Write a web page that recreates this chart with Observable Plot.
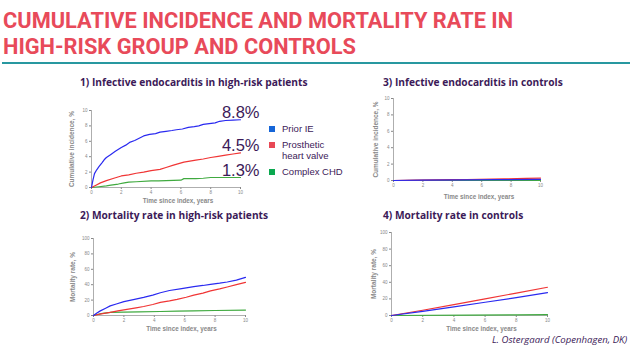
<!DOCTYPE html>
<html>
<head>
<meta charset="utf-8">
<script src="https://cdn.jsdelivr.net/npm/d3@7"></script>
<script src="https://cdn.jsdelivr.net/npm/@observablehq/plot@0.6"></script>
<style>
  html, body { margin: 0; padding: 0; background: #fff; }
  #page { position: relative; width: 630px; height: 354px; overflow: hidden; background: #fff; }
  .title { position: absolute; left: 3px; top: 8px; font-family: Roboto, sans-serif; font-weight: bold;
           font-size: 21.8px; line-height: 26px; color: #E84A5A; white-space: nowrap; }
  .rule { position: absolute; left: 2px; top: 62px; width: 628px; height: 2px; background: #2898A0; }
  .ptitle { position: absolute; font-family: "Open Sans", sans-serif; font-weight: bold; font-size: 10.2px;
            color: #3C1A58; white-space: nowrap; }
  .panel { position: absolute; }
  .legend { position: absolute; left: 269px; top: 123px; font-family: "Liberation Sans", Arial, sans-serif; font-size: 9.5px;
            color: #3C1A58; line-height: 11px; }
  .legend .item { position: relative; padding-left: 13px; margin-bottom: 5px; }
  .legend .sw { position: absolute; left: 0; top: 2.5px; width: 6px; height: 6px; }
  .footer { position: absolute; left: 492px; top: 333px; font-family: "Open Sans", sans-serif; font-style: italic;
            font-size: 9.6px; color: #3C1A58; white-space: nowrap; }
</style>
</head>
<body>
<div id="page">
  <div class="title">CUMULATIVE INCIDENCE AND MORTALITY RATE IN<br>HIGH-RISK GROUP AND CONTROLS</div>
  <div class="rule"></div>
  <div class="ptitle" id="t1" style="left:80px; top:75px;"></div>
  <div class="ptitle" id="t3" style="left:383px; top:75px;"></div>
  <div class="ptitle" id="t2" style="left:80px; top:208px;"></div>
  <div class="ptitle" id="t4" style="left:383px; top:208px;"></div>
  <div class="legend" id="legend"></div>
  <div class="footer">L. Ostergaard (Copenhagen, DK)</div>
</div>
<script>
// ---- Titles / labels ----
const panelTitles = [
  "1) Infective endocarditis in high-risk patients",
  "2) Mortality rate in high-risk patients",
  "3) Infective endocarditis in controls",
  "4) Mortality rate in controls"
];
const seriesNames = ["Prior IE", "Prosthetic heart valve", "Complex CHD"];
const seriesLegendLines = [["Prior IE"], ["Prosthetic", "heart valve"], ["Complex CHD"]];
const legendColors = ["#1565D8", "#E84855", "#0AA84F"];
const lineColors = ["#2A2AF0", "#F03535", "#40AA40"];
const xTicks = [0, 2, 4, 6, 8, 10];
const incTicks = [0, 2, 4, 6, 8, 10];
const mortTicks = [0, 20, 40, 60, 80, 100];
const xLabel = "Time since index, years";
const incLabel = "Cumulative incidence, %";
const mortLabel = "Mortality rate, %";
const endLabels = ["8.8%", "4.5%", "1.3%"];

// ---- Panel 1: IE in high-risk patients (cumulative incidence, %) ----
const p1PriorT = [0, 0.1, 0.2, 0.35, 0.5, 0.7, 0.85, 1.0, 1.3, 1.6, 2.0, 2.3, 2.6, 2.9, 3.2, 3.5, 3.9, 4.3, 4.6, 5.0, 5.4, 5.7, 6.1, 6.5, 6.9, 7.2, 7.5, 7.9, 8.3, 8.6, 9.0, 9.5, 10];
const p1PriorV = [0, 1.0, 1.8, 2.3, 2.7, 3.2, 3.6, 3.9, 4.3, 4.7, 5.2, 5.5, 5.9, 6.1, 6.4, 6.7, 6.9, 7.0, 7.2, 7.3, 7.4, 7.5, 7.6, 7.8, 7.9, 8.0, 8.2, 8.3, 8.4, 8.6, 8.7, 8.75, 8.8];
const p1ProsT = [0, 0.3, 0.6, 1.0, 1.5, 2.0, 2.5, 3.0, 3.5, 4.0, 4.6, 5.0, 5.5, 6.2, 7.0, 7.5, 8.0, 8.5, 9.0, 9.5, 10];
const p1ProsV = [0, 0.3, 0.6, 0.9, 1.2, 1.5, 1.65, 1.85, 2.0, 2.2, 2.35, 2.6, 2.9, 3.3, 3.55, 3.7, 3.9, 4.05, 4.2, 4.35, 4.5];
const p1ChdT = [0, 0.5, 1.0, 1.3, 1.8, 2.2, 2.5, 3.0, 4.0, 4.5, 5.0, 6.0, 6.2, 7.0, 7.5, 8.0, 10];
const p1ChdV = [0, 0.1, 0.2, 0.3, 0.45, 0.6, 0.7, 0.75, 0.85, 0.85, 0.9, 0.95, 1.15, 1.15, 1.2, 1.3, 1.3];

// ---- Panel 2: Mortality in high-risk patients (%) ----
const p2PriorT = [0, 0.2, 0.45, 0.8, 1.1, 1.5, 2.0, 2.7, 3.3, 3.9, 4.4, 5.0, 5.8, 6.6, 7.2, 7.7, 8.3, 8.8, 9.4, 10];
const p2PriorV = [0, 3, 6, 9.5, 12.5, 15, 18, 21, 23.5, 26.5, 29.5, 32.5, 35, 37.5, 39, 40.5, 42, 43.5, 46, 49.5];
const p2ProsT = [0, 0.5, 1.1, 1.6, 2.2, 2.8, 3.3, 3.9, 4.4, 5.0, 5.5, 6.1, 6.6, 7.2, 7.7, 8.3, 8.8, 9.4, 10];
const p2ProsV = [0, 2, 4, 6, 8, 10, 11.7, 14.3, 17, 19, 21, 23.7, 26.4, 29, 32, 34.5, 37, 40, 43];
const p2ChdT = [0, 0.5, 1.1, 2, 3, 4.4, 5.5, 6.6, 8, 10];
const p2ChdV = [0, 2.5, 4, 4.5, 4.8, 5.2, 5.6, 6, 6.5, 7];

// ---- Panel 3: IE in controls (cumulative incidence, %) ----
const p3PriorT = [0, 2.0, 5.0, 7.0, 10];
const p3PriorV = [0, 0.04, 0.08, 0.1, 0.14];
const p3ProsT = [0, 1.5, 4.0, 5.0, 7.5, 9.0, 10];
const p3ProsV = [0, 0.05, 0.1, 0.12, 0.2, 0.25, 0.3];
const p3ChdT = [0, 10];
const p3ChdV = [0, 0.02];

// ---- Panel 4: Mortality in controls (%) ----
const p4PriorT = [0, 2, 4, 6, 8, 10];
const p4PriorV = [0, 5, 10.5, 16, 21.5, 27.5];
const p4ProsT = [0, 2, 4, 6, 8, 10];
const p4ProsV = [0, 6.3, 13, 20, 27, 34];
const p4ChdT = [0, 5, 8, 10];
const p4ChdV = [0, 0.5, 0.7, 1];

function series(ts, vs, k) { return ts.map((t, i) => ({t, v: vs[i], k})); }

function panel(cfg) {
  const ml = 30, mt = 8, mb = 22, mr = cfg.mr || 8;
  const w = cfg.x1 - cfg.x0, h = cfg.y1 - cfg.y0;
  const data = cfg.series.flatMap(([ts, vs], k) => series(ts, vs, k));
  const marks = [
    Plot.axisY({ticks: cfg.yTicks, tickSize: 2, tickPadding: 2, fontSize: 4.5, label: null}),
    Plot.axisX({ticks: xTicks, tickSize: 2, tickPadding: 1, fontSize: 4.5, label: null}),
    Plot.ruleY([0], {stroke: "#999", strokeWidth: 0.8}),
    Plot.ruleX([0], {stroke: "#999", strokeWidth: 0.8}),
  ];
  // draw green first, then red, then blue on top
  [2, 1, 0].forEach(k => {
    marks.push(Plot.line(data.filter(d => d.k === k), {x: "t", y: "v", stroke: lineColors[k], strokeWidth: 1.2}));
  });
  marks.push(Plot.text([cfg.yLabel], {text: d => d, frameAnchor: "left", rotate: -90, dx: -cfg.ylOff,
    textAnchor: "middle", lineAnchor: "middle", fontSize: 6.5, fontWeight: "bold", fill: "#888"}));
  marks.push(Plot.text([xLabel], {text: d => d, frameAnchor: "bottom", dy: cfg.xlOff, dx: 12,
    textAnchor: "middle", lineAnchor: "middle", fontSize: 6.3, fontWeight: "bold", fill: "#888"}));
  if (cfg.ends) {
    const ends = cfg.series.map(([ts, vs], k) => ({t: ts[ts.length - 1], v: vs[vs.length - 1], label: cfg.ends[k]}));
    marks.push(Plot.text(ends, {x: "t", y: "v", text: "label", textAnchor: "end", dx: 19, dy: -7,
      fontSize: 16.5, fill: "#3C1A58", fontFamily: "Liberation Sans, Arial, sans-serif"}));
  }
  const svg = Plot.plot({
    width: w + ml + mr, height: h + mt + mb,
    marginLeft: ml, marginRight: mr, marginTop: mt, marginBottom: mb,
    x: {domain: [0, 10]},
    y: {domain: [0, cfg.yMax]},
    style: {background: "transparent", color: "#888", fontFamily: "Liberation Sans, Arial, sans-serif", overflow: "visible"},
    marks
  });
  const div = document.createElement("div");
  div.className = "panel";
  div.style.left = (cfg.x0 - ml) + "px";
  div.style.top = (cfg.y0 - mt) + "px";
  div.appendChild(svg);
  document.getElementById("page").appendChild(div);
}

panel({x0: 91, x1: 240, y0: 110, y1: 187, yMax: 10, yTicks: incTicks, yLabel: incLabel, ylOff: 20, xlOff: 13, mr: 24,
  series: [[p1PriorT, p1PriorV], [p1ProsT, p1ProsV], [p1ChdT, p1ChdV]], ends: endLabels});
panel({x0: 93, x1: 245, y0: 238, y1: 315, yMax: 100, yTicks: mortTicks, yLabel: mortLabel, ylOff: 21, xlOff: 13,
  series: [[p2PriorT, p2PriorV], [p2ProsT, p2ProsV], [p2ChdT, p2ChdV]]});
panel({x0: 393, x1: 540, y0: 98, y1: 180, yMax: 10, yTicks: incTicks, yLabel: incLabel, ylOff: 18, xlOff: 16,
  series: [[p3PriorT, p3PriorV], [p3ProsT, p3ProsV], [p3ChdT, p3ChdV]]});
panel({x0: 391, x1: 547, y0: 232, y1: 315, yMax: 100, yTicks: mortTicks, yLabel: mortLabel, ylOff: 18, xlOff: 13,
  series: [[p4PriorT, p4PriorV], [p4ProsT, p4ProsV], [p4ChdT, p4ChdV]]});

document.getElementById("t1").textContent = panelTitles[0];
document.getElementById("t2").textContent = panelTitles[1];
document.getElementById("t3").textContent = panelTitles[2];
document.getElementById("t4").textContent = panelTitles[3];

const legend = document.getElementById("legend");
seriesLegendLines.forEach((lines, k) => {
  const item = document.createElement("div");
  item.className = "item";
  item.title = seriesNames[k];
  const sw = document.createElement("span");
  sw.className = "sw";
  sw.style.background = legendColors[k];
  item.appendChild(sw);
  lines.forEach((ln, j) => {
    if (j) item.appendChild(document.createElement("br"));
    item.appendChild(document.createTextNode(ln));
  });
  legend.appendChild(item);
});
</script>
</body>
</html>
